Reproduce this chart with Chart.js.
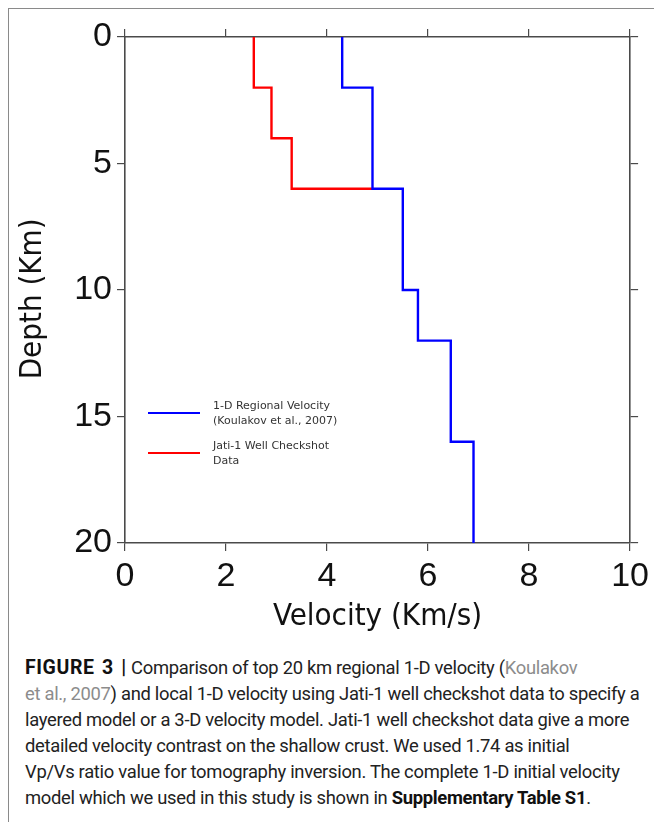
<!DOCTYPE html>
<html lang="en">
<head>
  <meta charset="UTF-8">
  <title>Figure 3 - 1-D velocity models</title>
  <script src="https://cdn.jsdelivr.net/npm/chart.js@4"></script>
  <style>
    html, body { margin: 0; padding: 0; background: #fff; }
    body { width: 654px; height: 822px; position: relative; overflow: hidden; }
    .frame { position: absolute; left: 8px; top: 8px; width: 700px; height: 900px; border: 1px solid #8a8a8a; box-sizing: border-box; }
    .chart-box { position: absolute; left: 0; top: 0; width: 654px; height: 650px; }
    .caption {
      position: absolute; left: 25px; top: 655px;
      font-family: Roboto, "Liberation Sans", sans-serif;
      font-size: 18.4px; line-height: 26px; color: #222;
      white-space: nowrap; letter-spacing: -0.3px;
    }
    .caption b { font-weight: bold; color: #111; }
    .caption .fig { font-size: 19.5px; letter-spacing: 0.6px; word-spacing: 2px; }
    .caption .ref { color: #8c8c8c; }
  </style>
</head>
<body>
  <div class="frame"></div>
  <div class="chart-box"><canvas id="velChart" width="654" height="650"></canvas></div>
  <div class="caption">
    <b class="fig">FIGURE 3 |</b> Comparison of top 20 km regional 1-D velocity (<span class="ref">Koulakov</span><br>
    <span class="ref">et al., 2007</span>) and local 1-D velocity using Jati-1 well checkshot data to specify a<br>
    layered model or a 3-D velocity model. Jati-1 well checkshot data give a more<br>
    detailed velocity contrast on the shallow crust. We used 1.74 as initial<br>
    Vp/Vs ratio value for tomography inversion. The complete 1-D initial velocity<br>
    model which we used in this study is shown in <b>Supplementary Table S1</b>.
  </div>

  <script>
    // Regional 1-D model (Koulakov et al., 2007): layer tops (km) and Vp (km/s)
    const regionalTop = [0, 2, 6, 10, 12, 16];
    const regionalVel = [4.3, 4.9, 5.5, 5.8, 6.45, 6.9];
    const regionalBottom = 20;

    // Jati-1 well checkshot: layer tops and Vp, last layer meets regional at 6 km
    const wellTop = [0, 2, 4, 6];
    const wellVel = [2.55, 2.9, 3.3, 4.9];

    const xTicks = [0, 2, 4, 6, 8, 10];
    const yTicks = [0, 5, 10, 15, 20];

    const legendItems = [
      { color: '#0000ff', lines: ['1-D Regional Velocity', '(Koulakov et al., 2007)'] },
      { color: '#ff0000', lines: ['Jati-1 Well Checkshot', 'Data'] }
    ];

    // stepped 'after' goes down first, then across to the next layer
    const regionalPts = regionalTop.map((d, i) => ({ x: regionalVel[i], y: d }));
    regionalPts.push({ x: regionalVel[regionalVel.length - 1], y: regionalBottom });
    const wellPts = wellTop.map((d, i) => ({ x: wellVel[i], y: d }));

    const AXIS_COLOR = '#4a4a4a';
    const tickFont = { family: '"Liberation Sans", Arial, sans-serif', size: 34 };
    const titleFont = { family: '"DejaVu Sans Condensed", "DejaVu Sans", sans-serif', size: 31 };

    function fixSize(prop, val) {
      return (scale) => { scale[prop] = val; };
    }

    const gridOpts = { drawOnChartArea: false, color: AXIS_COLOR, lineWidth: 1.2, tickLength: 8 };
    const borderOpts = { display: true, color: AXIS_COLOR, width: 1.6 };

    const legendPlugin = {
      id: 'insideLegend',
      afterDatasetsDraw(chart) {
        const ctx = chart.ctx;
        const area = chart.chartArea;
        ctx.save();
        ctx.font = '11px "DejaVu Sans", Verdana, sans-serif';
        ctx.textBaseline = 'middle';
        legendItems.forEach((item, i) => {
          const y = area.top + 376 + i * 40;
          ctx.strokeStyle = item.color;
          ctx.lineWidth = 1.8;
          ctx.beginPath();
          ctx.moveTo(area.left + 23, y);
          ctx.lineTo(area.left + 75, y);
          ctx.stroke();
          ctx.fillStyle = '#333';
          item.lines.forEach((t, j) => {
            ctx.fillText(t, area.left + 88, y - 7 + j * 15);
          });
        });
        ctx.restore();
      }
    };

    new Chart(document.getElementById('velChart').getContext('2d'), {
      type: 'scatter',
      data: {
        datasets: [{
          label: '1-D Regional Velocity (Koulakov et al., 2007)',
          data: regionalPts,
          showLine: true,
          stepped: 'after',
          borderColor: '#0000ff',
          borderWidth: 2.4,
          pointRadius: 0,
          fill: false
        }, {
          label: 'Jati-1 Well Checkshot Data',
          data: wellPts,
          showLine: true,
          stepped: 'after',
          borderColor: '#ff0000',
          borderWidth: 2.4,
          pointRadius: 0,
          fill: false
        }]
      },
      options: {
        responsive: false,
        animation: false,
        layout: { padding: 0 },
        plugins: { legend: { display: false }, tooltip: { enabled: false } },
        scales: {
          x: {
            type: 'linear', position: 'bottom', min: 0, max: 10,
            afterBuildTicks: (s) => { s.ticks = xTicks.map(v => ({ value: v })); },
            afterFit: fixSize('height', 107),
            grid: gridOpts, border: borderOpts,
            ticks: { font: tickFont, color: '#111', padding: 5, maxRotation: 0 },
            title: { display: true, text: 'Velocity (Km/s)', font: titleFont, color: '#111', padding: { top: 0, bottom: 14 } }
          },
          x2: {
            type: 'linear', position: 'top', min: 0, max: 10,
            afterBuildTicks: (s) => { s.ticks = xTicks.map(v => ({ value: v })); },
            afterFit: fixSize('height', 37),
            grid: gridOpts, border: borderOpts,
            ticks: { display: false }
          },
          y: {
            type: 'linear', position: 'left', min: 0, max: 20, reverse: true,
            afterBuildTicks: (s) => { s.ticks = yTicks.map(v => ({ value: v })); },
            afterFit: fixSize('width', 125),
            grid: gridOpts, border: borderOpts,
            ticks: { font: tickFont, color: '#111', padding: 5 },
            // trailing spaces nudge the rotated title a little lower, as in the figure
            title: { display: true, text: 'Depth (Km)  ', font: titleFont, color: '#111', padding: { top: 14, bottom: 0 } }
          },
          y2: {
            type: 'linear', position: 'right', min: 0, max: 20, reverse: true,
            afterBuildTicks: (s) => { s.ticks = yTicks.map(v => ({ value: v })); },
            afterFit: fixSize('width', 23),
            grid: gridOpts, border: borderOpts,
            ticks: { display: false }
          }
        }
      },
      plugins: [legendPlugin]
    });
  </script>
</body>
</html>
